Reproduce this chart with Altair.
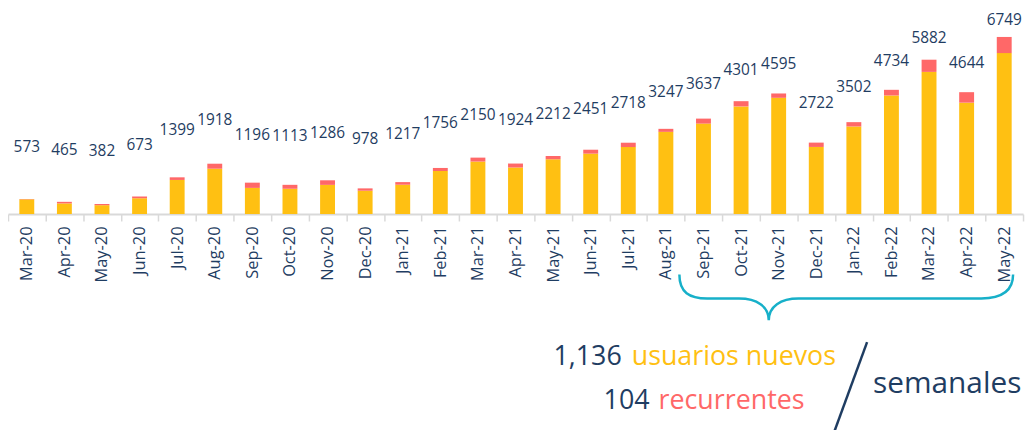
import altair as alt
import pandas as pd

months = ["Mar-20", "Apr-20", "May-20", "Jun-20", "Jul-20", "Aug-20", "Sep-20",
          "Oct-20", "Nov-20", "Dec-20", "Jan-21", "Feb-21", "Mar-21", "Apr-21",
          "May-21", "Jun-21", "Jul-21", "Aug-21", "Sep-21", "Oct-21", "Nov-21",
          "Dec-21", "Jan-22", "Feb-22", "Mar-22", "Apr-22", "May-22"]
totals = [573, 465, 382, 673, 1399, 1918, 1196, 1113, 1286, 978, 1217, 1756,
          2150, 1924, 2212, 2451, 2718, 3247, 3637, 4301, 4595, 2722, 3502,
          4734, 5882, 4644, 6749]
recurrentes = [12, 60, 45, 75, 100, 190, 200, 150, 175, 90, 100, 115, 150, 150,
               125, 150, 165, 115, 190, 200, 165, 165, 165, 215, 465, 400, 615]
nuevos = [t - r for t, r in zip(totals, recurrentes)]

rows = []
for m, n, r in zip(months, nuevos, recurrentes):
    rows.append({"mes": m, "serie": "nuevos", "valor": n, "orden": 0})
    rows.append({"mes": m, "serie": "recurrentes", "valor": r, "orden": 1})
bars_df = pd.DataFrame(rows)
labels_df = pd.DataFrame({"mes": months, "total": totals,
                          "etiqueta": [str(t) for t in totals]})

NAVY = "#1F3D62"
YELLOW = "#FFC012"
RED = "#FF6868"
TEAL = "#17B0C9"
GREY = "#D9D9D9"
FONT = "Open Sans"

x_enc = alt.X(
    "mes:N", sort=months,
    scale=alt.Scale(paddingInner=0, paddingOuter=0),
    axis=alt.Axis(title=None, labelAngle=-90, labelFont=FONT, labelFontSize=16.5,
                  labelColor=NAVY, labelPadding=5, tickBand="extent", tickSize=7,
                  tickColor=GREY, tickWidth=1.5, domainColor=GREY, domainWidth=2,
                  labelOverlap=False),
)

bars = alt.Chart(bars_df).mark_bar(size=15).encode(
    x=x_enc,
    y=alt.Y("valor:Q", stack="zero",
            scale=alt.Scale(domain=[0, 7646], nice=False), axis=None),
    color=alt.Color("serie:N",
                    scale=alt.Scale(domain=["nuevos", "recurrentes"],
                                    range=[YELLOW, RED]),
                    legend=None),
    order=alt.Order("orden:Q", sort="ascending"),
)

labels = alt.Chart(labels_df).mark_text(
    font=FONT, fontSize=15.5, color=NAVY, baseline="middle", align="center"
).encode(
    x=x_enc,
    y=alt.Y("total:Q", scale=alt.Scale(domain=[-2648, 7061], nice=False, zero=False),
            axis=None),
    text="etiqueta:N",
)

one = pd.DataFrame({"a": [0]})

brace_path = ("M -90 -24 C -90 -6 -80 0 -62 0 L -30 0 C -12 0 0 8 0 22 "
              "C 0 8 12 0 30 0 L 214 0 C 232 0 246 -6 246 -24")
brace = alt.Chart(one).mark_point(
    shape=brace_path, size=4, filled=False, stroke=TEAL, strokeWidth=2.5,
    opacity=1
).encode(x=alt.value(766), y=alt.value(287))

slash = alt.Chart(one).mark_rule(color=NAVY, strokeWidth=2.5).encode(
    x=alt.value(865), y=alt.value(331), x2=alt.value(828), y2=alt.value(432)
)

def txt(s, x, y, color, align, size=27):
    return alt.Chart(one).mark_text(
        text=s, font=FONT, fontSize=size, color=color, align=align,
        baseline="alphabetic"
    ).encode(x=alt.value(x), y=alt.value(y))

t1 = txt("1,136", 618, 354, NAVY, "right")
t2 = txt("usuarios nuevos", 628, 354, YELLOW, "left")
t3 = txt("104", 646, 398, NAVY, "right")
t4 = txt("recurrentes", 655, 398, RED, "left")
t5 = txt("semanales", 871, 382, NAVY, "left", size=30)

chart = alt.layer(bars, labels, brace, slash, t1, t2, t3, t4, t5).resolve_scale(
    y="independent"
).properties(
    width=1022, height=202,
    padding={"left": 0, "top": 4, "right": 3, "bottom": 216},
    autosize=alt.AutoSizeParams(type="none"),
    background="white",
).configure_view(stroke=None)

chart.save("out.html", embed_options={"renderer": "svg", "actions": False})
